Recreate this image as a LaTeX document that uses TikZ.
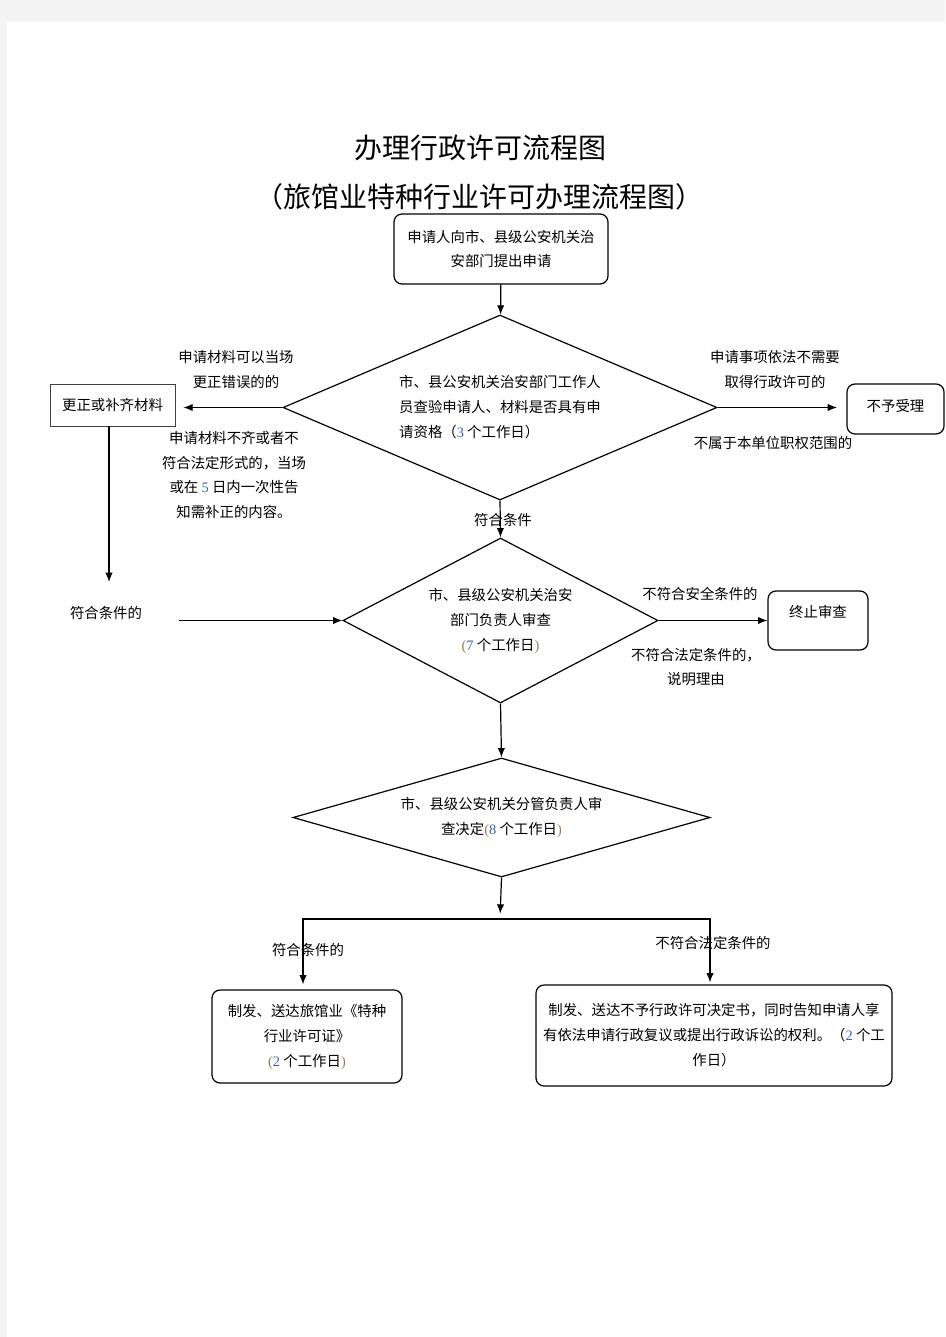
\documentclass[tikz,border=0pt]{standalone}
\usepackage{fontspec}
\setmainfont{Noto Sans CJK SC}
\newfontfamily\numfont{Liberation Serif}
\usepackage{tikz}
\usetikzlibrary{arrows.meta,shapes.geometric}
\definecolor{pagegray}{HTML}{F4F4F4}
\definecolor{numblue}{HTML}{3A62B0}
\definecolor{parbrown}{HTML}{A07A50}
\newcommand{\dg}[1]{{\numfont\color{numblue}#1}}
\newcommand{\hp}[1]{{\numfont\color{parbrown}#1}}

\begin{document}
\begin{tikzpicture}[x=0.75pt,y=-0.75pt,->,>={Latex[length=7pt,width=5.5pt]},line width=0.9pt,
    every node/.style={font=\fontsize{10.8}{18.7}\selectfont},
    roundbox/.style={rectangle,draw,rounded corners=6pt,inner sep=0pt,align=center},
    squarebox/.style={rectangle,draw=black!75,line width=0.6pt,inner sep=0pt,align=center},
    decision/.style={diamond,draw,inner sep=0pt,align=center},
    note/.style={align=center,inner sep=1pt},
    titlenode/.style={font=\fontsize{21}{26}\selectfont}]
    \useasboundingbox (0,0) rectangle (945,1337);
    \fill[-,pagegray] (0,0) rectangle (945,1337);
    \fill[-,white] (7,22) rectangle (945,1337);
    % titles
    \node [titlenode] (title1) at (480,148) {办理行政许可流程图};
    \node [titlenode] (title2) at (479,197) {（旅馆业特种行业许可办理流程图）};
    % boxes and decisions
    \node [roundbox,minimum width=160.5pt,minimum height=52.5pt] (apply) at (501,249) {申请人向市、县级公安机关治\\安部门提出申请};
    \node [decision,aspect=2.35,minimum width=325.5pt,minimum height=138.75pt,align=left] (check) at (500,407.5) {市、县公安机关治安部门工作人\\员查验申请人、材料是否具有申\\请资格（\dg{3} 个工作日）};
    \node [squarebox,minimum width=93.75pt,minimum height=31.5pt] (fix) at (112.5,405) {更正或补齐材料};
    \node [roundbox,minimum width=72.75pt,minimum height=37.5pt,text depth=5pt] (reject) at (895.5,409) {不予受理};
    \node [decision,aspect=1.9,minimum width=236.25pt,minimum height=123.75pt] (review) at (500.5,620.5) {市、县级公安机关治安\\部门负责人审查\\\hp{(}\dg{7} 个工作日\hp{)}};
    \node [roundbox,minimum width=75pt,minimum height=44.25pt,text depth=14pt] (stop) at (818,620.5) {终止审查};
    \node [decision,aspect=3.5,minimum width=312.75pt,minimum height=89.25pt] (decide) at (501.5,817.5) {市、县级公安机关分管负责人审\\查决定\hp{(}\dg{8} 个工作日\hp{)}};
    \node [roundbox,minimum width=142.5pt,minimum height=69.75pt] (grant) at (307,1036.5) {制发、送达旅馆业《特种\\行业许可证》\\\hp{(}\dg{2} 个工作日\hp{)}};
    \node [roundbox,minimum width=267pt,minimum height=75.75pt] (deny) at (714,1035.5) {制发、送达不予行政许可决定书，同时告知申请人享\\有依法申请行政复议或提出行政诉讼的权利。（\dg{2} 个工\\作日）};
    % labels
    \node [note] (fixnote) at (236,370) {申请材料可以当场\\更正错误的的};
    \node [note] (missnote) at (234,475) {申请材料不齐或者不\\符合法定形式的，当场\\或在 \dg{5} 日内一次性告\\知需补正的内容。};
    \node [note] (noneed) at (775,370) {申请事项依法不需要\\取得行政许可的};
    \node [note] (notours) at (773,443) {不属于本单位职权范围的};
    \node [note] (okone) at (503,520) {符合条件};
    \node [note] (oktwo) at (106,613) {符合条件的};
    \node [note] (unsafe) at (700,594) {不符合安全条件的};
    \node [note] (illegal) at (696,667) {不符合法定条件的，\\说明理由};
    \node [note] (okthree) at (308,950) {符合条件的};
    \node [note] (nothree) at (713,943) {不符合法定条件的};
    \coordinate (fixend) at (109,582);
    \coordinate (split) at (500,919);
    % connectors
    \draw (apply) -- (check);
    \draw[shorten >=6pt] (check.west) -- (check.west -| fix.east);
    \draw (fix.south -| fixend) -- (fixend);
    \draw[shorten <=26pt] (oktwo.east |- review.west) -- (review.west);
    \draw[shorten >=7pt] (check.east) -- (check.east -| reject.west);
    \draw (check.south) -- (review.north);
    \draw (review.east) -- (stop.west);
    \draw (review.south) -- (decide.north);
    \draw[shorten >=4pt] (decide.south) -- (split);
    \draw (split) -| ([xshift=-3pt,yshift=3.75pt]grant.north);
    \draw (split) -| ([xshift=-3pt,yshift=1.5pt]deny.north);
\end{tikzpicture}
\end{document}
